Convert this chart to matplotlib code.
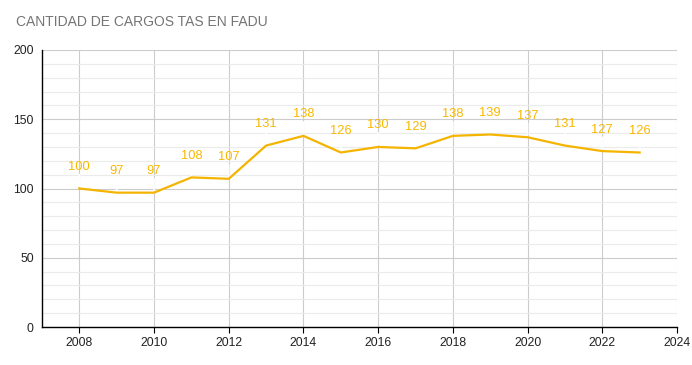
import matplotlib
matplotlib.use("Agg")
import matplotlib.pyplot as plt
from matplotlib.ticker import MultipleLocator

years = [2008, 2009, 2010, 2011, 2012, 2013, 2014, 2015, 2016, 2017, 2018, 2019, 2020, 2021, 2022, 2023]
cargos = [100, 97, 97, 108, 107, 131, 138, 126, 130, 129, 138, 139, 137, 131, 127, 126]
title = "CANTIDAD DE CARGOS TAS EN FADU"

plt.rcParams['font.family'] = ['Liberation Sans', 'DejaVu Sans']

fig = plt.figure(figsize=(6.92, 3.65), dpi=100)
ax = fig.add_axes([42/692, 38/365, (677-42)/692, (327-50)/365])

color = '#F4B400'
ax.plot(years, cargos, color=color, lw=1.6, zorder=3, solid_joinstyle='round')
for x, y in zip(years, cargos):
    ax.annotate('', xy=(x, y), xytext=(0, 10), textcoords='offset points',
                arrowprops=dict(arrowstyle='-', color='white', lw=1.2, shrinkA=0, shrinkB=1.5),
                zorder=2)
    ax.annotate(str(y), (x, y), xytext=(0, 15.5), textcoords='offset points',
                ha='center', va='center', color='#F9B800', fontsize=9.3, zorder=4)

ax.set_xlim(2007, 2024)
ax.set_ylim(0, 200)
ax.xaxis.set_major_locator(MultipleLocator(2))
ax.yaxis.set_major_locator(MultipleLocator(50))
ax.yaxis.set_minor_locator(MultipleLocator(10))
ax.grid(which='major', axis='both', color='#cccccc', lw=0.8, zorder=0)
ax.grid(which='minor', axis='y', color='#ebebeb', lw=0.8, zorder=0)
for s in ['top', 'right']:
    ax.spines[s].set_visible(False)
ax.spines['left'].set_color('black')
ax.spines['bottom'].set_color('black')
ax.spines['left'].set_linewidth(1)
ax.spines['bottom'].set_linewidth(1)
ax.tick_params(axis='y', which='both', length=0, labelsize=8.8, pad=6, colors='#222222')
ax.tick_params(axis='x', which='major', length=4, direction='out', labelsize=8.8, pad=3, colors='#222222', color='black')
ax.set_axisbelow(True)
fig.text(16/692, 1 - 22/365, title, ha='left', va='center', fontsize=10, color='#757575')

fig.savefig('out.png', dpi=100)
